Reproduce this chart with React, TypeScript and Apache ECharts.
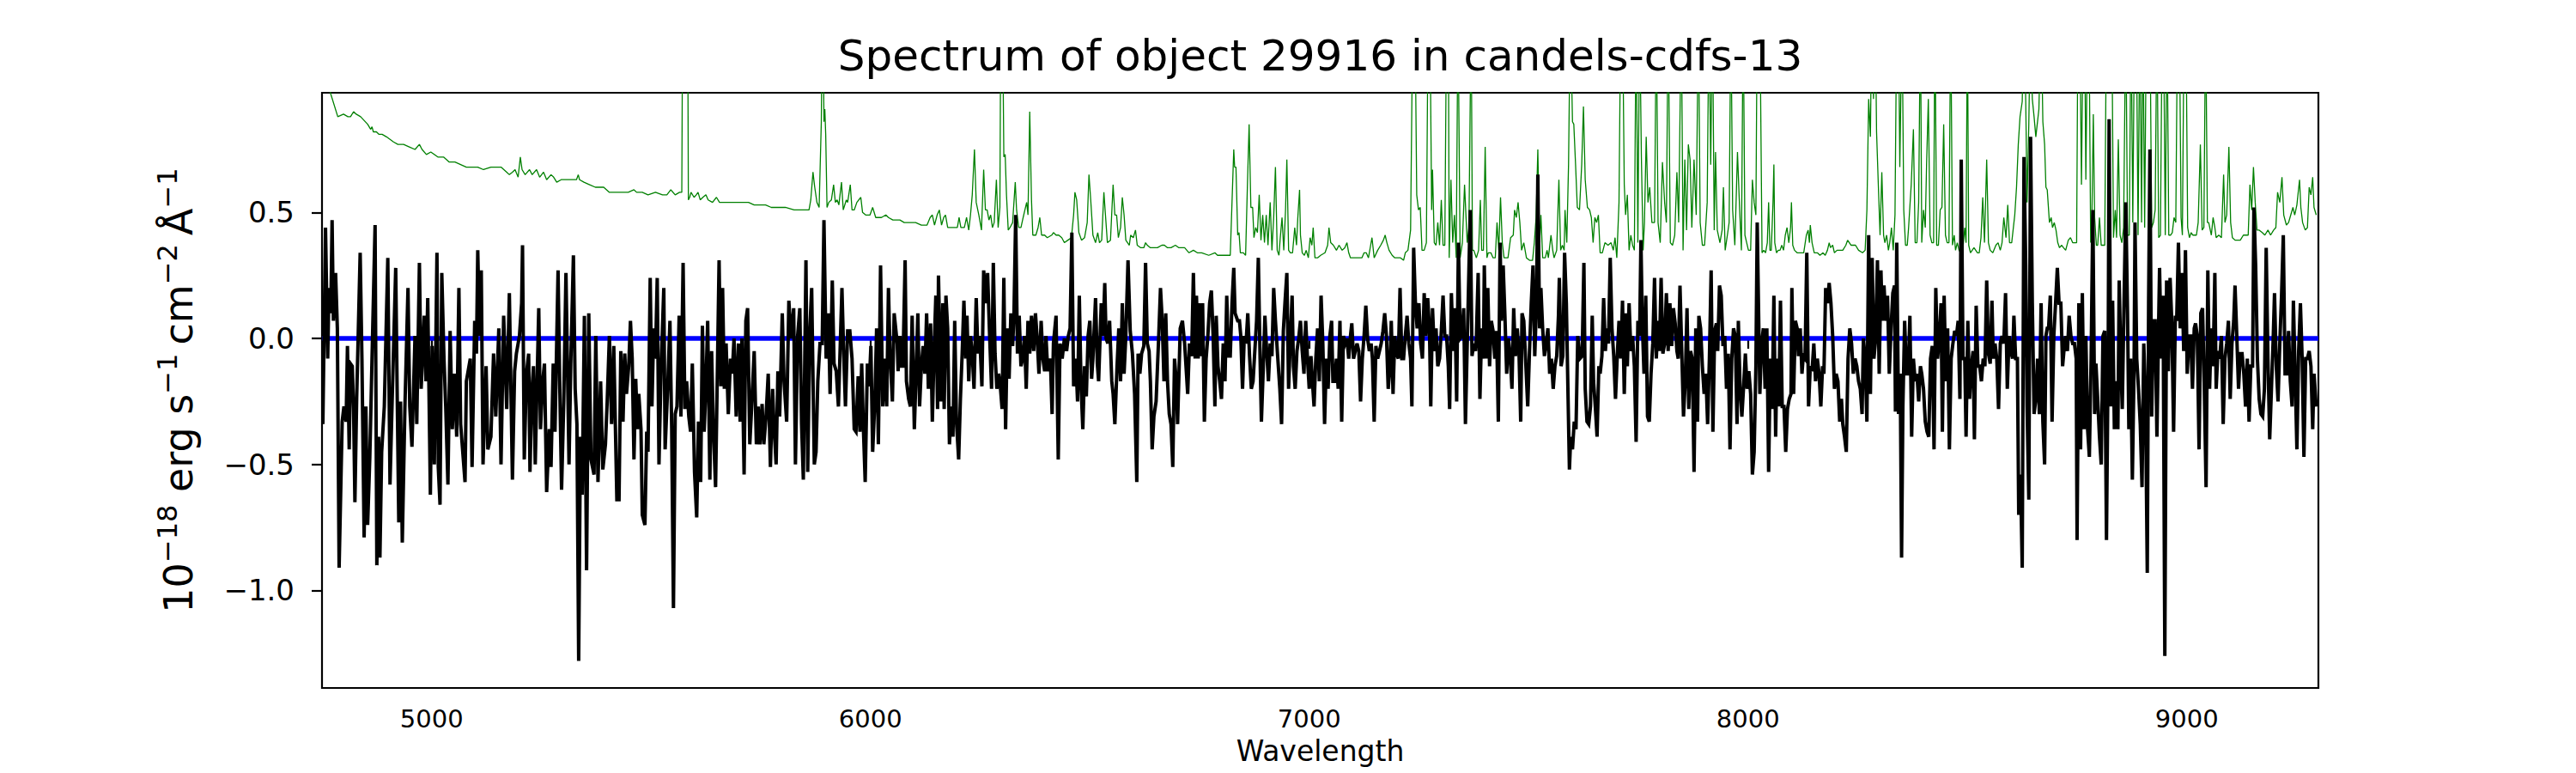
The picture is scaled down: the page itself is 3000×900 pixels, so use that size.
import React, { useEffect, useRef } from "react";
import * as echarts from "echarts";

const TITLE = "Spectrum of object 29916 in candels-cdfs-13";
const X_LABEL = "Wavelength";
const Y_LABEL_RICH = "{m|10}{s|\u221218}{m| erg s}{s|\u22121}{s| }{m|cm}{s|\u22122}{s| }{m|\u00c5}{s|\u22121}";

const X_MIN = 4750;
const X_MAX = 9300;
const Y_MIN = -1.387;
const Y_MAX = 0.975;
const waveTicks = [5000, 6000, 7000, 8000, 9000];
const fluxTicks = [-1, -0.5, 0, 0.5];
const zeroLevel: [number, number][] = [[4750, 0], [9300, 0]];

// object flux (black)
const flux1: [number, number][] = [[4752,-0.34],[4758,0.44],[4763,-0.08],[4766,0.2],[4770,0.1],[4773,0.47],[4776,0.07],[4781,0.26],[4785,0.04],[4789,-0.91],[4796,-0.33],[4800,-0.27],[4805,-0.33],[4808,-0.03],[4812,-0.44],[4815,-0.1],[4819,-0.11],[4822,-0.28],[4825,-0.65],[4829,-0.24],[4837,0.34],[4841,-0.08],[4846,-0.79],[4850,-0.27],[4854,-0.74],[4859,-0.47],[4864,-0.08],[4871,0.45],[4875,-0.9],[4879,-0.39],[4882,-0.87],[4886,-0.45],[4892,-0.27],[4900,0.32],[4905,-0.58],[4910,-0.24],[4918,0.28],[4922,-0.31],[4925,-0.73],[4929,-0.25],[4933,-0.81],[4939,-0.27],[4946,0.2],[4950,-0.27],[4955,-0.43],[4962,0.01],[4966,-0.34],[4972,0.3],[4976,-0.2],[4983,0.09],[4987,-0.17],[4991,0.16],[4997,-0.62],[5001,-0.03],[5006,-0.5],[5012,0.34],[5015,-0.51],[5019,-0.66],[5023,0.26],[5028,-0.08],[5032,-0.27],[5037,-0.58],[5042,0.03],[5047,-0.36],[5052,-0.14],[5057,-0.39],[5062,0.2],[5066,-0.34],[5076,-0.57],[5079,-0.17],[5088,-0.08],[5092,-0.51],[5098,0.07],[5102,-0.06],[5105,0.35],[5109,0.01],[5113,0.27],[5117,-0.5],[5124,-0.11],[5128,-0.44],[5135,-0.39],[5141,-0.06],[5146,-0.31],[5153,0.04],[5158,-0.5],[5164,0.09],[5171,-0.28],[5177,0.18],[5184,-0.56],[5189,-0.13],[5193,-0.06],[5200,0.01],[5205,0.14],[5207,0.37],[5211,-0.48],[5216,-0.14],[5221,-0.06],[5224,-0.53],[5228,-0.22],[5232,-0.11],[5236,-0.5],[5241,-0.11],[5244,0.12],[5248,-0.36],[5253,-0.17],[5257,-0.1],[5262,-0.61],[5268,-0.36],[5272,-0.51],[5277,-0.1],[5281,-0.37],[5288,0.27],[5292,-0.2],[5296,-0.6],[5301,-0.25],[5306,0.26],[5313,-0.5],[5317,-0.1],[5323,0.33],[5327,-0.2],[5331,-0.34],[5335,-1.28],[5339,-0.39],[5343,-0.62],[5348,0.09],[5353,-0.92],[5358,0.1],[5363,-0.48],[5370,-0.54],[5374,0.01],[5379,-0.57],[5385,-0.17],[5390,-0.52],[5396,-0.42],[5400,-0.25],[5405,0.01]];
const flux2: [number, number][] = [[5410,-0.34],[5415,-0.03],[5422,-0.64],[5427,-0.64],[5431,-0.05],[5436,-0.33],[5440,-0.06],[5444,-0.22],[5449,-0.11],[5453,0.07],[5457,-0.08],[5461,-0.48],[5465,-0.16],[5469,-0.36],[5472,-0.22],[5477,-0.36],[5480,-0.7],[5486,-0.74],[5490,-0.37],[5493,-0.45],[5498,0.24],[5502,-0.27],[5506,0.04],[5510,-0.08],[5514,0.24],[5518,-0.5],[5523,-0.11],[5529,0.2],[5532,-0.44],[5538,-0.19],[5543,0.07],[5547,-0.36],[5551,-1.07],[5555,-0.3],[5559,-0.27],[5564,0.09],[5568,-0.31],[5573,0.3],[5577,-0.28],[5581,-0.17],[5586,-0.31],[5590,-0.37],[5594,-0.1],[5599,-0.53],[5604,-0.71],[5608,-0.33],[5613,-0.57],[5617,0.05],[5621,-0.37],[5625,-0.19],[5629,0.07],[5634,-0.56],[5638,-0.05],[5642,-0.36],[5647,-0.59],[5651,-0.14],[5655,0.31],[5659,-0.19],[5663,0.2],[5667,-0.2],[5671,-0.02],[5676,-0.3],[5681,-0.08],[5685,-0.14],[5689,0.0],[5694,-0.31],[5699,-0.02],[5703,-0.33],[5707,0.0],[5712,-0.54],[5716,0.07],[5720,0.12],[5725,-0.42],[5729,-0.28],[5735,-0.05],[5740,-0.42],[5744,-0.27],[5748,-0.42],[5753,-0.26],[5757,-0.42],[5762,-0.31],[5767,-0.14],[5772,-0.51],[5777,-0.2],[5780,-0.34],[5785,-0.5],[5789,-0.13],[5793,-0.31],[5799,0.1],[5803,-0.17],[5809,-0.33],[5814,0.15],[5819,0.0],[5825,0.12],[5829,-0.5],[5834,0.01],[5839,0.12],[5843,-0.34],[5847,-0.56],[5853,0.31],[5857,-0.53],[5862,0.04],[5866,0.2],[5872,-0.5],[5876,-0.45],[5880,-0.17],[5885,-0.02],[5890,-0.02],[5894,0.47],[5899,-0.08],[5904,0.1],[5908,-0.22],[5913,0.23],[5917,-0.1],[5922,-0.13],[5927,-0.27],[5935,0.2],[5939,-0.06],[5943,-0.27],[5948,0.03],[5953,0.03],[5958,-0.08],[5963,-0.36],[5967,-0.37],[5972,-0.15],[5976,-0.37],[5980,-0.1],[5984,-0.36],[5988,-0.57],[5993,-0.1],[5997,-0.19],[6001,-0.03],[6005,-0.45],[6010,-0.25],[6014,0.04],[6018,-0.42],[6023,0.29],[6028,-0.27],[6032,-0.08],[6037,-0.27],[6041,0.2],[6045,-0.08],[6050,-0.25],[6054,0.1],[6061,-0.02]];
const flux3: [number, number][] = [[6063,-0.13],[6067,0.01],[6071,-0.11],[6074,-0.11],[6079,0.31],[6082,-0.17],[6087,-0.24],[6091,-0.27],[6095,0.09],[6100,-0.36],[6104,-0.14],[6108,0.1],[6112,-0.27],[6116,-0.11],[6120,-0.03],[6124,-0.14],[6128,0.1],[6132,-0.2],[6137,0.06],[6141,-0.33],[6145,-0.05],[6149,0.17],[6153,-0.28],[6155,0.25],[6161,-0.25],[6165,0.14],[6168,-0.28],[6172,0.17],[6176,0.04],[6180,-0.42],[6184,-0.27],[6188,-0.39],[6192,0.07],[6196,-0.33],[6201,-0.48],[6205,-0.24],[6209,-0.06],[6213,0.15],[6217,-0.08],[6220,0.09],[6224,-0.17],[6228,0.01],[6232,-0.06],[6236,-0.2],[6241,0.16],[6245,-0.06],[6249,0.01],[6254,-0.19],[6258,0.27],[6264,0.14],[6267,0.26],[6271,0.04],[6276,-0.2],[6280,0.3],[6284,-0.06],[6288,-0.2],[6292,-0.14],[6296,-0.19],[6300,-0.28],[6304,0.24],[6308,-0.36],[6312,0.04],[6316,-0.16],[6320,0.1],[6324,-0.03],[6327,0.09],[6331,0.49],[6335,-0.06],[6339,0.09],[6343,-0.11],[6347,-0.08],[6351,0.01],[6355,-0.2],[6359,0.07],[6363,-0.06],[6367,0.09],[6372,-0.05],[6376,0.1],[6380,0.0],[6384,-0.14],[6389,0.07],[6393,-0.08],[6397,-0.13],[6400,0.01],[6404,-0.13],[6410,-0.08],[6414,-0.3],[6417,-0.02],[6423,0.09],[6428,-0.48],[6432,-0.02],[6437,-0.08],[6442,0.0],[6447,-0.05],[6451,0.01],[6455,0.04],[6459,0.42],[6463,-0.19],[6468,-0.08],[6472,-0.25],[6476,0.17],[6480,-0.19],[6484,-0.36],[6488,-0.11],[6492,-0.23],[6496,0.01],[6500,0.07],[6504,-0.16],[6507,-0.08],[6513,0.16],[6517,-0.1],[6520,-0.17],[6526,0.14],[6530,0.01],[6534,0.22],[6537,0.0],[6541,-0.02],[6545,0.07],[6550,-0.17],[6553,-0.22],[6557,-0.34],[6562,-0.11],[6566,0.04],[6570,-0.17],[6574,0.14],[6578,-0.14],[6582,0.01],[6587,0.31],[6592,0.03],[6597,-0.06],[6602,-0.22],[6607,-0.57],[6610,-0.06],[6614,-0.14],[6618,-0.06],[6623,-0.03],[6627,0.3],[6631,-0.02],[6635,-0.05],[6638,-0.17],[6642,-0.44],[6646,-0.31],[6651,-0.25],[6657,0.01],[6661,0.2],[6665,0.07],[6669,-0.17],[6673,0.1],[6677,-0.17],[6681,-0.3],[6685,-0.34],[6689,-0.51],[6693,-0.08],[6697,-0.17],[6700,-0.34],[6706,0.04],[6711,0.07],[6716,-0.02]];
const flux4: [number, number][] = [[6723,-0.22],[6727,-0.02],[6732,-0.07],[6736,0.26],[6740,-0.08],[6743,0.17],[6747,-0.08],[6749,0.14],[6753,-0.07],[6757,0.14],[6761,-0.33],[6765,-0.08],[6769,0.01],[6773,0.14],[6777,0.19],[6781,0.01],[6785,-0.27],[6788,0.09],[6792,-0.11],[6796,-0.17],[6800,-0.24],[6804,-0.02],[6808,-0.17],[6812,0.17],[6816,-0.07],[6820,-0.07],[6824,0.14],[6828,0.28],[6831,0.1],[6837,0.07],[6841,0.07],[6844,0.01],[6848,-0.2],[6852,0.01],[6856,-0.02],[6860,0.1],[6864,-0.07],[6868,-0.2],[6872,-0.17],[6876,-0.05],[6880,0.07],[6884,0.32],[6888,-0.08],[6891,-0.33],[6895,-0.13],[6899,0.09],[6903,-0.05],[6907,-0.17],[6911,-0.02],[6915,-0.07],[6919,0.2],[6923,0.07],[6928,-0.07],[6933,-0.2],[6937,-0.34],[6941,0.03],[6945,0.15],[6949,0.26],[6953,-0.2],[6957,0.0],[6961,0.17],[6964,-0.11],[6968,-0.2],[6972,-0.05],[6976,0.0],[6980,0.07],[6984,-0.05],[6988,-0.14],[6992,0.07],[6996,-0.08],[7000,-0.2],[7004,-0.07],[7008,-0.19],[7011,-0.27],[7015,-0.08],[7019,0.04],[7023,-0.17],[7027,0.17],[7031,-0.02],[7035,-0.34],[7039,-0.08],[7043,-0.2],[7047,0.01],[7051,0.07],[7054,-0.17],[7058,-0.17],[7062,-0.08],[7066,-0.2],[7070,0.07],[7074,-0.33],[7078,0.01],[7082,-0.02],[7086,0.0],[7090,-0.08],[7094,0.01],[7097,0.06],[7101,-0.08],[7105,-0.05],[7109,-0.02],[7113,-0.05],[7117,-0.25],[7121,-0.08],[7125,0.01],[7129,0.13],[7133,0.0],[7137,-0.05],[7141,-0.02],[7144,-0.08],[7148,-0.33],[7152,-0.03],[7156,-0.08],[7160,-0.05],[7164,-0.02],[7168,0.03],[7172,0.1],[7176,0.01],[7180,-0.2],[7184,-0.11],[7187,0.07],[7191,-0.22],[7195,0.01],[7199,-0.06],[7203,-0.08],[7207,0.2],[7211,-0.08],[7215,-0.08],[7219,0.01],[7223,0.09],[7227,-0.02],[7231,-0.08],[7234,-0.27],[7238,0.36],[7242,0.14],[7246,0.04],[7250,0.14],[7254,-0.02],[7258,-0.08],[7262,0.18],[7266,0.01],[7270,0.16],[7274,0.04],[7277,-0.27],[7281,0.12],[7285,-0.05],[7289,0.04],[7293,-0.11],[7297,-0.08],[7301,0.03],[7305,0.17],[7309,0.01],[7313,0.01],[7317,-0.11],[7320,-0.28],[7324,0.18],[7328,-0.05],[7332,0.12],[7336,-0.25],[7340,0.38],[7344,0.0],[7348,0.01],[7352,0.12],[7356,-0.34],[7360,-0.03]];
const flux5: [number, number][] = [[7367,0.51],[7371,-0.07],[7375,-0.02],[7379,-0.05],[7381,0.01],[7385,0.26],[7389,-0.24],[7393,0.04],[7397,-0.08],[7399,0.29],[7403,-0.08],[7407,0.2],[7411,-0.11],[7415,0.07],[7419,0.03],[7423,-0.08],[7427,0.03],[7431,-0.33],[7435,0.38],[7438,0.07],[7442,0.29],[7446,0.09],[7450,-0.14],[7454,0.0],[7458,-0.07],[7462,-0.2],[7466,0.12],[7470,-0.07],[7474,0.04],[7478,-0.05],[7482,-0.33],[7485,0.1],[7489,0.07],[7493,-0.08],[7498,-0.27],[7502,-0.05],[7506,0.14],[7510,0.29],[7514,-0.07],[7518,0.14],[7521,0.65],[7525,0.04],[7528,0.2],[7532,0.04],[7536,-0.07],[7540,-0.02],[7544,0.04],[7548,-0.14],[7552,-0.08],[7556,-0.2],[7560,-0.11],[7564,-0.07],[7568,0.09],[7570,0.24],[7574,-0.11],[7578,-0.07],[7582,0.34],[7586,0.14],[7590,-0.24],[7593,-0.52],[7596,-0.39],[7600,-0.44],[7604,-0.33],[7608,-0.36],[7612,0.01],[7617,-0.08],[7622,-0.07],[7626,0.3],[7629,-0.2],[7633,-0.33],[7637,-0.34],[7641,-0.27],[7645,0.09],[7648,-0.17],[7652,-0.27],[7656,-0.39],[7660,-0.11],[7663,-0.14],[7667,-0.07],[7671,0.16],[7675,-0.05],[7678,0.04],[7682,-0.02],[7686,0.32],[7690,0.04],[7694,-0.07],[7698,-0.24],[7702,-0.07],[7706,0.07],[7710,-0.08],[7714,0.15],[7718,-0.22],[7722,0.1],[7725,-0.11],[7729,0.14],[7733,-0.05],[7737,0.01],[7741,-0.11],[7745,-0.41],[7749,0.07],[7753,0.01],[7756,0.39],[7759,0.07],[7763,-0.14],[7767,0.17],[7771,-0.31],[7775,-0.33],[7779,-0.14],[7783,-0.02],[7787,0.24],[7791,-0.08],[7795,0.07],[7798,-0.05],[7802,0.24],[7806,-0.06],[7810,-0.02],[7814,0.18],[7818,-0.05],[7822,0.14],[7826,-0.03],[7830,0.12],[7834,0.06],[7838,-0.05],[7841,-0.08],[7845,0.21],[7849,-0.05],[7853,-0.31],[7857,-0.17],[7861,0.12],[7865,-0.28],[7869,-0.05],[7873,-0.08],[7877,-0.53],[7881,0.04],[7885,-0.33],[7888,0.09],[7892,0.04],[7896,-0.11],[7900,-0.22],[7904,-0.14],[7908,-0.34],[7912,-0.08],[7916,0.27],[7920,-0.37],[7924,0.03],[7928,0.06],[7931,-0.05],[7935,0.21],[7939,0.17],[7943,-0.03],[7947,0.01],[7951,-0.2],[7955,-0.06],[7959,-0.44],[7963,-0.08],[7967,0.04],[7971,0.01],[7975,-0.34],[7978,0.07],[7982,-0.2],[7986,-0.31],[7990,-0.19],[7994,-0.06],[7998,-0.2],[8002,-0.13],[8006,-0.22],[8010,-0.54],[8014,-0.45],[8018,-0.11],[8021,0.46]];
const flux6: [number, number][] = [[8027,-0.22],[8031,-0.02],[8035,0.04],[8039,-0.2],[8043,0.04],[8047,-0.53],[8051,-0.08],[8055,-0.28],[8059,0.17],[8063,-0.39],[8066,-0.08],[8070,-0.27],[8074,0.15],[8078,-0.27],[8082,-0.27],[8086,-0.45],[8090,-0.28],[8094,-0.24],[8098,-0.22],[8100,0.2],[8104,-0.22],[8108,0.07],[8112,0.04],[8115,-0.07],[8119,0.04],[8123,-0.14],[8126,-0.07],[8130,-0.08],[8134,0.34],[8138,-0.27],[8142,-0.11],[8146,-0.13],[8150,-0.02],[8154,-0.17],[8158,-0.08],[8162,-0.14],[8166,-0.27],[8170,-0.11],[8173,-0.14],[8177,0.2],[8181,0.14],[8185,0.22],[8189,0.14],[8193,0.01],[8197,-0.2],[8201,-0.14],[8205,-0.17],[8209,-0.33],[8213,-0.24],[8216,-0.34],[8220,-0.39],[8224,-0.45],[8228,-0.08],[8232,0.04],[8236,-0.02],[8240,-0.14],[8244,-0.08],[8248,-0.11],[8252,-0.17],[8256,-0.2],[8260,-0.3],[8263,0.0],[8267,-0.08],[8271,-0.33],[8275,0.41],[8279,-0.22],[8283,0.32],[8287,-0.08],[8291,0.0],[8295,0.31],[8299,-0.14],[8303,0.27],[8306,0.07],[8310,0.21],[8314,0.07],[8318,0.17],[8322,-0.14],[8326,0.04],[8330,0.18],[8334,0.21],[8336,-0.29],[8339,0.38],[8343,-0.3],[8347,-0.14],[8350,-0.87],[8353,-0.27],[8357,0.07],[8361,-0.14],[8365,-0.14],[8369,0.09],[8373,-0.39],[8377,-0.08],[8381,-0.17],[8385,-0.14],[8389,-0.25],[8393,-0.11],[8396,-0.14],[8400,-0.2],[8404,-0.33],[8408,-0.37],[8412,-0.39],[8416,-0.08],[8420,-0.03],[8424,-0.44],[8428,0.2],[8432,-0.08],[8436,0.0],[8440,0.14],[8443,-0.37],[8447,0.17],[8451,-0.17],[8455,0.04],[8459,-0.44],[8463,-0.08],[8467,-0.02],[8471,0.03],[8475,0.01],[8479,0.07],[8483,-0.24],[8486,0.71],[8490,-0.08],[8494,-0.08],[8497,-0.39],[8501,0.07],[8505,-0.24],[8509,-0.11],[8513,-0.05],[8516,-0.4],[8520,0.13],[8524,-0.11],[8528,-0.11],[8532,-0.17],[8536,-0.08],[8540,-0.11],[8544,0.23],[8548,-0.06],[8552,-0.1],[8556,0.15],[8559,-0.08],[8563,-0.02],[8567,-0.08],[8571,-0.28],[8575,-0.02],[8579,0.01],[8583,-0.02],[8587,0.18],[8591,-0.2],[8595,0.01],[8599,-0.05],[8603,-0.08],[8606,0.09],[8610,-0.08],[8614,-0.08],[8617,-0.7],[8621,-0.54],[8625,-0.91],[8629,0.72],[8633,0.29],[8636,-0.27],[8640,-0.64],[8644,0.8],[8648,0.14],[8652,-0.3],[8656,-0.24],[8660,-0.08],[8664,-0.3],[8668,0.14],[8672,-0.33],[8676,-0.5],[8679,0.01],[8682,0.04]];
const flux7: [number, number][] = [[8685,0.04],[8689,0.17],[8693,-0.33],[8697,0.01],[8701,0.14],[8705,0.28],[8709,0.14],[8713,0.14],[8717,-0.11],[8720,-0.05],[8724,0.01],[8728,-0.05],[8732,0.09],[8736,0.01],[8740,-0.02],[8744,-0.02],[8748,-0.08],[8750,-0.8],[8754,0.14],[8758,-0.44],[8762,0.18],[8766,-0.36],[8770,0.01],[8774,-0.36],[8778,-0.47],[8782,-0.08],[8786,0.51],[8790,-0.3],[8793,-0.1],[8797,-0.24],[8801,-0.39],[8805,-0.5],[8809,0.01],[8813,0.03],[8817,-0.8],[8821,-0.03],[8823,0.87],[8827,-0.27],[8831,0.15],[8835,-0.36],[8839,-0.17],[8843,-0.36],[8846,0.23],[8850,-0.11],[8853,-0.28],[8857,0.14],[8861,0.54],[8865,0.1],[8868,-0.36],[8872,-0.08],[8876,-0.56],[8880,-0.1],[8882,0.46],[8886,-0.08],[8890,-0.2],[8894,-0.34],[8898,-0.59],[8902,-0.02],[8906,-0.24],[8910,-0.93],[8913,0.14],[8916,0.75],[8920,-0.31],[8924,0.07],[8928,0.07],[8932,-0.39],[8936,0.07],[8938,0.28],[8942,-0.08],[8946,0.17],[8950,-1.26],[8954,0.23],[8958,-0.13],[8962,0.24],[8966,0.06],[8970,-0.37],[8974,0.09],[8977,0.07],[8981,0.38],[8985,0.04],[8989,0.26],[8993,-0.05],[8997,0.35],[9001,-0.14],[9005,0.01],[9009,0.01],[9013,-0.2],[9017,0.04],[9020,0.06],[9024,0.01],[9028,-0.44],[9032,0.1],[9036,0.12],[9040,-0.2],[9044,-0.59],[9048,0.27],[9052,-0.2],[9056,0.04],[9060,-0.11],[9064,0.26],[9067,-0.2],[9071,-0.05],[9075,-0.08],[9079,0.01],[9083,-0.34],[9087,-0.08],[9091,-0.02],[9095,0.07],[9099,-0.24],[9103,-0.02],[9107,0.07],[9110,0.21],[9114,0.01],[9118,-0.2],[9122,-0.06],[9126,-0.06],[9130,-0.14],[9134,-0.27],[9138,-0.08],[9142,-0.33],[9146,-0.11],[9150,-0.11],[9153,0.52],[9157,0.29],[9161,-0.08],[9165,-0.24],[9169,-0.3],[9173,-0.31],[9177,-0.2],[9181,0.36],[9185,-0.08],[9189,-0.4],[9193,-0.2],[9197,0.0],[9200,0.18],[9204,-0.11],[9208,-0.25],[9212,-0.02],[9216,0.17],[9220,0.41],[9224,-0.14],[9228,-0.14],[9232,0.03],[9236,-0.17],[9240,-0.27],[9243,0.15],[9247,-0.14],[9251,-0.44],[9255,-0.05],[9259,0.14],[9263,-0.08],[9267,-0.47],[9271,-0.08],[9275,-0.08],[9279,-0.05],[9283,-0.11],[9287,-0.36],[9290,-0.14],[9295,-0.27]];

// sky / noise spectrum (green); spikes run off the top
const sky1: [number, number][] = [[4750,1.1],[4770,0.97],[4786,0.88],[4799,0.89],[4809,0.88],[4815,0.88],[4822,0.9],[4828,0.89],[4838,0.88],[4854,0.85],[4861,0.83],[4864,0.84],[4867,0.82],[4874,0.82],[4880,0.81],[4887,0.81],[4897,0.8],[4913,0.78],[4923,0.77],[4936,0.77],[4949,0.76],[4962,0.75],[4972,0.77],[4978,0.75],[4988,0.73],[4998,0.74],[5014,0.72],[5027,0.72],[5040,0.7],[5053,0.7],[5066,0.69],[5079,0.68],[5092,0.68],[5105,0.68],[5118,0.67],[5135,0.68],[5145,0.68],[5158,0.68],[5171,0.66],[5177,0.65],[5184,0.66],[5190,0.67],[5197,0.64],[5202,0.72],[5206,0.67],[5213,0.65],[5223,0.67],[5229,0.65],[5239,0.67],[5246,0.64],[5255,0.66],[5262,0.63],[5272,0.65],[5278,0.64],[5285,0.62],[5295,0.63],[5308,0.63],[5321,0.63],[5330,0.63],[5334,0.65],[5337,0.63],[5347,0.62],[5360,0.61],[5373,0.6],[5392,0.6],[5405,0.58]];
const sky2: [number, number][] = [[5409,0.58],[5422,0.58],[5438,0.58],[5448,0.58],[5461,0.59],[5467,0.58],[5480,0.58],[5493,0.57],[5510,0.58],[5526,0.57],[5536,0.57],[5545,0.59],[5555,0.57],[5565,0.58],[5570,0.58],[5575,2.5],[5581,2.5],[5585,0.55],[5588,0.56],[5591,0.58],[5598,0.56],[5603,0.57],[5607,0.58],[5612,0.55],[5618,0.56],[5625,0.57],[5630,0.55],[5640,0.54],[5649,0.56],[5656,0.54],[5669,0.54],[5682,0.54],[5695,0.54],[5709,0.54],[5722,0.54],[5735,0.53],[5748,0.53],[5761,0.53],[5774,0.52],[5787,0.52],[5793,0.52],[5806,0.52],[5826,0.51],[5845,0.51],[5860,0.51],[5864,0.55],[5869,0.66],[5873,0.6],[5878,0.54],[5883,0.52],[5888,0.86],[5891,1.5],[5894,0.86],[5896,0.91],[5898,0.81],[5901,0.52],[5905,0.54],[5911,0.55],[5916,0.61],[5920,0.54],[5924,0.55],[5928,0.53],[5934,0.62],[5938,0.51],[5945,0.55],[5948,0.54],[5954,0.61],[5958,0.51],[5963,0.51],[5969,0.54],[5978,0.56],[5982,0.5],[5989,0.49],[5999,0.49],[6005,0.52],[6012,0.48],[6025,0.48],[6035,0.49],[6041,0.48],[6051,0.47],[6061,0.47]];
const sky3: [number, number][] = [[6067,0.47],[6077,0.46],[6090,0.46],[6103,0.46],[6116,0.45],[6129,0.45],[6136,0.48],[6141,0.49],[6146,0.45],[6152,0.49],[6157,0.51],[6162,0.45],[6167,0.48],[6171,0.49],[6176,0.44],[6181,0.44],[6191,0.44],[6198,0.44],[6202,0.48],[6206,0.44],[6214,0.44],[6219,0.48],[6224,0.43],[6228,0.49],[6232,0.57],[6237,0.75],[6241,0.54],[6247,0.49],[6253,0.43],[6258,0.67],[6262,0.51],[6266,0.51],[6270,0.47],[6274,0.49],[6278,0.44],[6282,0.46],[6287,0.63],[6291,0.44],[6295,0.52],[6297,1.3],[6301,1.3],[6304,0.72],[6307,0.73],[6310,0.57],[6314,0.43],[6318,0.44],[6324,0.46],[6327,0.54],[6330,0.62],[6333,0.51],[6338,0.44],[6343,0.44],[6348,0.48],[6352,0.51],[6356,0.54],[6359,0.49],[6363,0.9],[6367,0.55],[6370,0.41],[6377,0.41],[6382,0.44],[6386,0.48],[6390,0.41],[6397,0.41],[6403,0.4],[6413,0.41],[6417,0.42],[6423,0.41],[6429,0.41],[6436,0.4],[6442,0.38],[6450,0.39],[6458,0.4],[6463,0.49],[6466,0.58],[6470,0.55],[6475,0.42],[6481,0.39],[6488,0.4],[6494,0.46],[6498,0.65],[6502,0.55],[6507,0.41],[6513,0.38],[6518,0.42],[6522,0.38],[6527,0.39],[6532,0.58],[6536,0.48],[6540,0.38],[6547,0.39],[6553,0.61],[6557,0.49],[6561,0.49],[6565,0.4],[6570,0.44],[6574,0.56],[6578,0.49],[6582,0.39],[6590,0.37],[6593,0.41],[6599,0.4],[6604,0.43],[6608,0.37],[6616,0.36],[6623,0.36],[6627,0.38],[6631,0.37],[6638,0.36],[6646,0.36],[6654,0.36],[6664,0.37],[6670,0.37],[6677,0.36],[6685,0.36],[6695,0.37],[6703,0.36],[6716,0.36]];
const sky4: [number, number][] = [[6726,0.34],[6736,0.35],[6745,0.34],[6755,0.34],[6771,0.33],[6785,0.34],[6791,0.33],[6804,0.33],[6820,0.33],[6824,0.54],[6828,0.75],[6830,0.68],[6833,0.68],[6837,0.41],[6840,0.42],[6843,0.34],[6850,0.34],[6855,0.33],[6859,0.6],[6863,0.85],[6867,0.52],[6871,0.52],[6874,0.4],[6878,0.44],[6882,0.42],[6886,0.57],[6890,0.39],[6894,0.49],[6898,0.38],[6902,0.49],[6906,0.37],[6911,0.54],[6915,0.35],[6919,0.48],[6923,0.68],[6927,0.35],[6931,0.33],[6934,0.4],[6938,0.48],[6942,0.35],[6946,0.51],[6949,0.71],[6953,0.35],[6957,0.34],[6962,0.34],[6967,0.44],[6971,0.37],[6974,0.48],[6978,0.59],[6980,0.41],[6984,0.34],[6989,0.33],[6993,0.35],[6998,0.32],[7002,0.4],[7006,0.37],[7009,0.44],[7013,0.32],[7019,0.32],[7026,0.33],[7036,0.34],[7042,0.37],[7045,0.44],[7049,0.38],[7055,0.37],[7062,0.35],[7068,0.37],[7075,0.35],[7081,0.36],[7086,0.38],[7090,0.34],[7094,0.32],[7104,0.32],[7114,0.32],[7120,0.32],[7125,0.34],[7130,0.34],[7135,0.32],[7140,0.37],[7143,0.4],[7148,0.32],[7156,0.35],[7163,0.37],[7169,0.39],[7173,0.41],[7177,0.38],[7182,0.35],[7189,0.33],[7195,0.32],[7202,0.32],[7208,0.32],[7215,0.31],[7219,0.34],[7225,0.35],[7231,0.43],[7236,1.3],[7241,1.3],[7245,0.57],[7249,0.51],[7253,0.52],[7257,0.35],[7262,0.35],[7267,0.38],[7271,1.3],[7275,1.3],[7279,0.51],[7281,0.67],[7285,0.38],[7289,0.37],[7293,0.46],[7297,0.37],[7301,0.55],[7305,0.37],[7309,0.37],[7313,1.3],[7317,1.3],[7319,0.32],[7323,0.63],[7327,0.38],[7331,0.49],[7335,0.32],[7339,1.3],[7344,0.32],[7349,0.38],[7354,0.61],[7360,0.38],[7364,0.44]];
const sky5: [number, number][] = [[7369,1.3],[7372,0.35],[7375,0.35],[7381,0.32],[7386,0.35],[7390,0.55],[7393,0.35],[7397,0.35],[7401,0.76],[7405,0.32],[7408,0.34],[7414,0.34],[7419,0.32],[7424,0.32],[7428,0.46],[7432,0.35],[7436,0.56],[7440,0.38],[7444,0.32],[7453,0.32],[7459,0.4],[7465,0.41],[7468,0.51],[7472,0.48],[7476,0.54],[7480,0.46],[7484,0.35],[7489,0.38],[7495,0.32],[7502,0.31],[7509,0.31],[7513,0.38],[7517,0.48],[7521,0.75],[7525,0.38],[7528,0.49],[7532,0.32],[7538,0.32],[7542,0.35],[7545,0.32],[7551,0.41],[7555,0.35],[7558,0.32],[7564,0.35],[7569,0.63],[7573,0.35],[7577,0.37],[7581,0.35],[7583,0.51],[7587,0.38],[7591,0.69],[7595,1.3],[7600,0.86],[7603,0.85],[7607,0.69],[7611,0.52],[7616,0.51],[7621,0.69],[7625,0.92],[7629,0.63],[7634,0.52],[7639,0.51],[7643,0.48],[7647,0.38],[7651,0.48],[7655,0.46],[7659,0.49],[7663,0.34],[7668,0.34],[7674,0.38],[7681,0.37],[7688,0.38],[7693,0.35],[7697,0.4],[7701,0.32],[7706,0.54],[7710,1.3],[7714,1.3],[7718,0.61],[7721,0.49],[7725,0.57],[7729,0.35],[7733,0.41],[7737,0.37],[7741,0.35],[7745,1.3],[7749,0.38],[7753,1.3],[7757,0.72],[7761,0.35],[7764,0.46],[7768,0.8],[7772,0.54],[7776,0.6],[7781,0.46],[7787,0.46],[7791,1.3],[7795,0.46],[7800,0.38],[7805,0.7],[7810,0.54],[7814,0.46],[7818,1.3],[7823,0.38],[7828,0.37],[7833,0.41],[7838,0.66],[7842,0.46],[7848,1.3],[7852,0.35],[7856,0.71],[7860,0.43],[7864,0.77],[7868,0.71],[7872,0.44],[7877,0.71],[7882,0.49],[7887,1.3],[7891,0.46],[7896,0.37],[7901,0.37],[7907,0.54],[7911,1.3],[7915,0.69],[7919,1.3],[7923,0.43],[7926,0.74],[7930,0.43],[7936,0.38],[7941,0.43],[7944,0.6],[7948,0.35],[7953,0.41],[7957,0.46],[7961,1.3],[7965,0.51],[7970,0.37],[7973,0.55],[7976,0.74],[7981,0.51],[7985,0.35],[7989,1.3],[7993,0.41],[7997,0.38],[8001,0.35],[8006,0.35],[8010,0.63],[8014,0.54],[8018,0.49],[8021,1.3],[8027,1.3]];
const sky6: [number, number][] = [[8032,0.34],[8036,0.35],[8040,0.34],[8044,0.38],[8047,0.54],[8050,0.35],[8053,0.35],[8057,0.54],[8059,0.69],[8061,0.38],[8065,0.34],[8069,0.35],[8073,0.35],[8077,0.37],[8081,0.35],[8085,0.41],[8089,0.44],[8093,0.38],[8097,0.44],[8099,0.54],[8102,0.37],[8106,0.35],[8112,0.34],[8119,0.34],[8127,0.34],[8133,0.41],[8137,0.43],[8140,0.38],[8142,0.45],[8146,0.38],[8151,0.34],[8158,0.34],[8164,0.33],[8171,0.34],[8176,0.33],[8181,0.35],[8185,0.38],[8188,0.36],[8193,0.37],[8197,0.34],[8203,0.35],[8210,0.35],[8216,0.35],[8223,0.37],[8227,0.39],[8231,0.38],[8235,0.37],[8239,0.37],[8245,0.37],[8252,0.35],[8261,0.34],[8267,0.35],[8271,0.51],[8275,0.95],[8279,0.8],[8282,1.3],[8286,0.95],[8290,1.3],[8293,0.82],[8297,0.61],[8301,0.41],[8305,0.66],[8309,0.41],[8312,0.38],[8316,0.41],[8320,0.35],[8323,0.38],[8327,0.44],[8331,0.35],[8335,0.49],[8339,1.3],[8343,1.3],[8346,0.68],[8351,1.3],[8355,0.51],[8359,0.37],[8363,0.37],[8366,0.44],[8372,0.61],[8377,0.83],[8381,0.38],[8385,0.38],[8389,0.54],[8393,1.3],[8396,0.38],[8400,0.51],[8404,0.44],[8407,0.69],[8411,0.95],[8415,0.41],[8419,0.38],[8423,0.38],[8426,1.3],[8430,0.37],[8434,0.37],[8438,0.51],[8442,0.52],[8446,0.85],[8450,0.41],[8454,0.38],[8458,0.38],[8462,1.3],[8466,0.37],[8470,0.41],[8473,0.35],[8477,0.38],[8481,0.35],[8485,0.34],[8489,0.34],[8494,0.44],[8497,0.38],[8500,1.3],[8503,0.37],[8507,0.34],[8511,0.35],[8515,0.36],[8519,0.35],[8523,0.34],[8527,0.34],[8531,0.4],[8535,0.56],[8539,0.38],[8544,0.71],[8548,0.38],[8552,0.35],[8558,0.34],[8565,0.37],[8570,0.38],[8575,0.35],[8579,0.38],[8583,0.48],[8588,0.4],[8592,0.53],[8596,0.38],[8601,0.38],[8608,0.49],[8612,0.6],[8616,0.77],[8620,0.88],[8625,0.94],[8629,1.3],[8633,0.94],[8636,0.54],[8640,0.85],[8644,1.3],[8648,0.95],[8652,0.88],[8656,0.8],[8663,0.91],[8668,1.3],[8672,0.86],[8676,0.77],[8679,0.6],[8682,0.59]];
const sky7: [number, number][] = [[8687,0.46],[8691,0.48],[8694,0.44],[8698,0.46],[8702,0.43],[8706,0.38],[8710,0.36],[8715,0.37],[8719,0.36],[8724,0.35],[8730,0.39],[8735,0.4],[8740,0.38],[8745,0.38],[8749,0.38],[8752,1.3],[8756,1.3],[8760,0.61],[8764,1.3],[8767,1.3],[8770,0.63],[8774,1.3],[8777,1.3],[8781,0.38],[8784,0.51],[8787,0.89],[8790,0.48],[8794,0.37],[8797,0.37],[8801,0.48],[8805,0.37],[8809,0.37],[8813,0.37],[8817,1.3],[8821,1.3],[8825,1.3],[8829,1.3],[8833,0.4],[8837,0.51],[8840,0.4],[8844,0.79],[8848,0.41],[8852,0.38],[8856,0.44],[8861,1.3],[8865,0.41],[8869,0.41],[8873,1.3],[8877,0.46],[8881,1.3],[8885,1.3],[8889,0.41],[8893,1.3],[8897,0.46],[8900,1.3],[8904,0.44],[8908,1.3],[8912,1.3],[8916,1.3],[8920,0.44],[8924,0.46],[8928,0.51],[8932,1.3],[8936,0.4],[8940,0.41],[8944,1.3],[8947,1.3],[8951,0.41],[8955,1.3],[8959,0.41],[8963,0.41],[8967,0.42],[8971,0.48],[8975,0.46],[8979,1.3],[8983,1.3],[8987,0.48],[8990,0.41],[8994,1.3],[8998,1.3],[9002,0.44],[9006,0.4],[9010,0.42],[9014,0.41],[9018,0.41],[9022,0.41],[9026,0.46],[9031,0.77],[9035,0.43],[9039,0.44],[9043,1.3],[9047,0.46],[9050,0.46],[9056,0.41],[9060,0.48],[9064,0.44],[9067,0.4],[9073,0.41],[9079,0.4],[9084,0.65],[9087,0.46],[9091,0.49],[9096,0.76],[9100,0.46],[9104,0.4],[9110,0.39],[9116,0.39],[9122,0.39],[9129,0.41],[9135,0.41],[9140,0.41],[9144,0.61],[9148,0.51],[9152,0.68],[9156,0.54],[9160,0.43],[9165,0.43],[9172,0.42],[9178,0.41],[9185,0.43],[9191,0.41],[9198,0.43],[9203,0.44],[9207,0.58],[9212,0.54],[9217,0.64],[9221,0.49],[9227,0.45],[9232,0.46],[9237,0.49],[9242,0.52],[9246,0.49],[9251,0.53],[9257,0.63],[9260,0.52],[9264,0.46],[9270,0.43],[9275,0.44],[9279,0.6],[9283,0.57],[9287,0.64],[9290,0.52],[9295,0.49]];

const FONT = "DejaVu Sans";

export default function App() {
  const ref = useRef<HTMLDivElement>(null);

  useEffect(() => {
    document.body.style.margin = "0";
    const el = ref.current;
    if (!el) return;
    const chart = echarts.init(el, null, { renderer: "svg", width: 3000, height: 900 });

    const flux = [...flux1, ...flux2, ...flux3, ...flux4, ...flux5, ...flux6, ...flux7];
    const sky = [...sky1, ...sky2, ...sky3, ...sky4, ...sky5, ...sky6, ...sky7];

    const gridLeft = 375;
    const gridTop = 108;
    const gridWidth = 2325;
    const gridHeight = 693;
    const cx = gridLeft + gridWidth / 2;

    chart.setOption({
      animation: false,
      backgroundColor: "#ffffff",
      grid: {
        left: gridLeft,
        top: gridTop,
        width: gridWidth,
        height: gridHeight,
        show: true,
        borderColor: "#000",
        borderWidth: 2.2,
        backgroundColor: "transparent",
        containLabel: false,
        outerBoundsMode: "none",
      },
      xAxis: {
        type: "value",
        min: X_MIN,
        max: X_MAX,
        axisLine: { show: false },
        splitLine: { show: false },
        axisTick: {
          show: true,
          inside: false,
          length: 12,
          customValues: waveTicks,
          lineStyle: { color: "#000", width: 2.2 },
        },
        axisLabel: {
          show: true,
          customValues: waveTicks,
          margin: 21,
          fontSize: 29,
          fontFamily: FONT,
          color: "#000",
          formatter: (v: number) => String(v),
        },
      },
      yAxis: {
        type: "value",
        min: Y_MIN,
        max: Y_MAX,
        axisLine: { show: false },
        splitLine: { show: false },
        axisTick: {
          show: true,
          inside: false,
          length: 12,
          customValues: fluxTicks,
          lineStyle: { color: "#000", width: 2.2 },
        },
        axisLabel: {
          show: true,
          customValues: fluxTicks,
          margin: 32,
          fontSize: 34,
          fontFamily: FONT,
          color: "#000",
          formatter: (v: number) => v.toFixed(1).replace("-", "\u2212"),
        },
      },
      graphic: [
        {
          type: "text",
          x: cx,
          y: 65,
          silent: true,
          style: {
            text: TITLE,
            fontSize: 50,
            fontFamily: FONT,
            fill: "#000",
            align: "center",
            verticalAlign: "middle",
          },
        },
        {
          type: "text",
          x: cx,
          y: 874,
          silent: true,
          style: {
            text: X_LABEL,
            fontSize: 33,
            fontFamily: FONT,
            fill: "#000",
            align: "center",
            verticalAlign: "middle",
          },
        },
        {
          type: "text",
          x: 208,
          y: gridTop + gridHeight / 2,
          rotation: Math.PI / 2,
          silent: true,
          style: {
            text: Y_LABEL_RICH,
            fontFamily: FONT,
            fontSize: 46,
            fill: "#000",
            align: "center",
            verticalAlign: "middle",
            rich: {
              m: { fontSize: 46, fontFamily: FONT, lineHeight: 58, fill: "#000", verticalAlign: "middle" },
              s: { fontSize: 32, fontFamily: FONT, lineHeight: 32, fill: "#000", verticalAlign: "top" },
            },
          },
        },
      ],
      series: [
        {
          type: "line",
          name: "sky",
          data: sky,
          showSymbol: false,
          symbol: "none",
          clip: true,
          silent: true,
          lineStyle: { color: "#008000", width: 1.3 },
          z: 1,
        },
        {
          type: "line",
          name: "zero",
          data: zeroLevel,
          showSymbol: false,
          symbol: "none",
          clip: true,
          silent: true,
          lineStyle: { color: "#0000ff", width: 5.5 },
          z: 2,
        },
        {
          type: "line",
          name: "flux",
          data: flux,
          showSymbol: false,
          symbol: "none",
          clip: true,
          silent: true,
          lineStyle: { color: "#000000", width: 4, join: "miter" },
          z: 3,
        },
      ],
    });

    return () => chart.dispose();
  }, []);

  return <div ref={ref} style={{ width: 3000, height: 900 }} />;
}
